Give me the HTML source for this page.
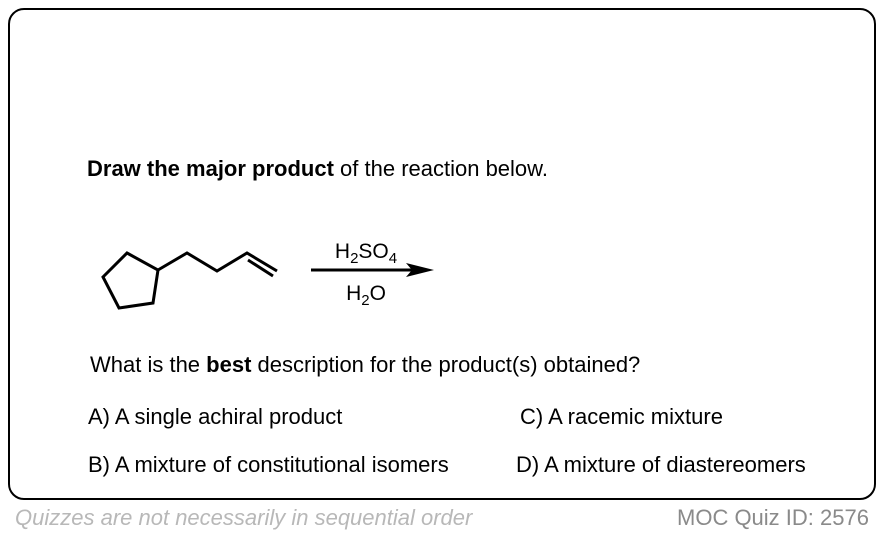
<!DOCTYPE html>
<html><head><style>
body{margin:0;width:884px;height:534px;background:#fff;font-family:"Liberation Sans",Arial,sans-serif;position:relative;overflow:hidden}
.box{position:absolute;left:8px;top:8px;width:864px;height:488px;border:2.5px solid #000;border-radius:16px}
.t{position:absolute;font-size:22px;line-height:24px;color:#000;white-space:nowrap}
.f{position:absolute;font-size:22px;line-height:24px;white-space:nowrap}
</style></head><body>
<div class="box"></div>
<div class="t" style="left:87px;top:157px"><b>Draw the major product</b> of the reaction below.</div>
<svg style="position:absolute;left:0;top:0" width="884" height="534">
<g stroke="#000" stroke-width="3" fill="none" stroke-linejoin="miter">
<polygon points="127,253 158,270 153,303 119,308 103,277"/>
<polyline points="158,270 187,253 217,271 247,253 277,271"/>
<line x1="248" y1="260" x2="273" y2="276"/>
<line x1="311" y1="270" x2="412" y2="270"/>
</g>
<polygon points="434,270 406,263 412,270 406,277" fill="#000"/>
<text x="366" y="258" font-size="21" text-anchor="middle" font-family="Liberation Sans">H<tspan font-size="15" dy="5">2</tspan><tspan dy="-5">SO</tspan><tspan font-size="15" dy="5">4</tspan></text>
<text x="366" y="300" font-size="21" text-anchor="middle" font-family="Liberation Sans">H<tspan font-size="15" dy="5">2</tspan><tspan dy="-5">O</tspan></text>
</svg>
<div class="t" style="left:90px;top:353px">What is the <b>best</b> description for the product(s) obtained?</div>
<div class="t" style="left:88px;top:405px">A) A single achiral product</div>
<div class="t" style="left:520px;top:405px">C) A racemic mixture</div>
<div class="t" style="left:88px;top:453px">B) A mixture of constitutional isomers</div>
<div class="t" style="left:516px;top:453px">D) A mixture of diastereomers</div>
<div class="f" style="left:15px;top:506px;color:#b8b8b8;font-style:italic">Quizzes are not necessarily in sequential order</div>
<div class="f" style="left:677px;top:506px;color:#8a8a8a">MOC Quiz ID: 2576</div>
</body></html>
